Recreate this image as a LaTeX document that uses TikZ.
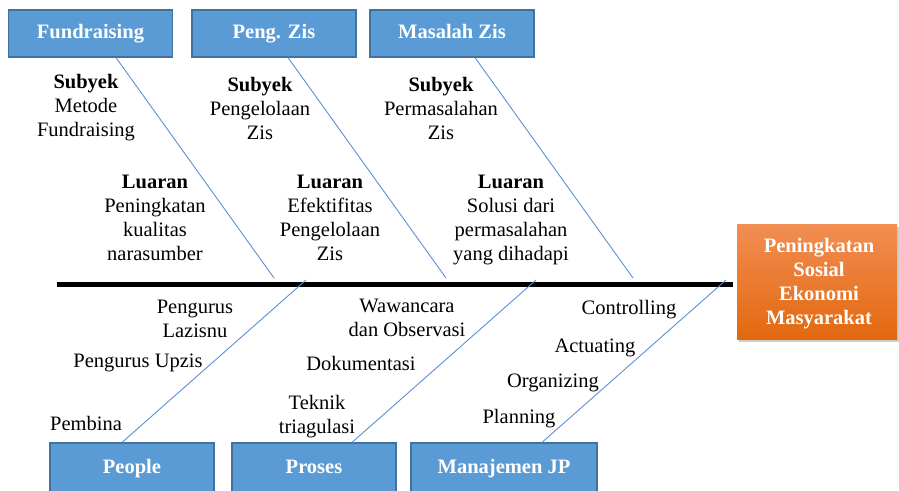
\documentclass[tikz,border=0pt]{standalone}
\usepackage{fontspec}
\setmainfont{Liberation Serif}
\usetikzlibrary{shadows}
\definecolor{boxblue}{HTML}{5B9BD5}
\definecolor{boxedge}{HTML}{41719C}
\definecolor{branch}{HTML}{5B8FD8}
\definecolor{orgtop}{HTML}{F28E52}
\definecolor{orgbot}{HTML}{E2680F}
\begin{document}
\begin{tikzpicture}[x=1pt,y=-1pt,
  catbox/.style={draw=boxedge,line width=1.2pt,fill=boxblue,minimum width=164pt,minimum height=47pt,inner sep=0pt,
     text height=14pt,text depth=4.5pt,
     font=\fontsize{20.5}{23.5}\selectfont\bfseries,text=white},
  lbl/.style={align=center,inner sep=0pt,font=\fontsize{20.5}{24}\selectfont},
  bone/.style={draw=branch,line width=0.9pt},
]
\useasboundingbox (0,0) rectangle (899,490);
% top boxes
\node[catbox] (fund) at (90.5,33.5) {Fundraising};
\node[catbox] (peng) at (274,33.5) {Peng. Zis};
\node[catbox] (masa) at (452,33.5) {Masalah Zis};
% bottom boxes
\node[catbox,minimum height=51pt] (peop) at (132,468.5) {People};
\node[catbox,minimum height=51pt] (pros) at (314,468.5) {Proses};
\node[catbox,minimum height=51pt,minimum width=186pt] (manj) at (504,468.5) {Manajemen JP};
% effect box
\node[minimum width=160pt,minimum height=115pt,top color=orgtop,bottom color=orgbot,draw=none,
  drop shadow={shadow xshift=2pt,shadow yshift=-3pt,opacity=0.4}] (eff) at (817,281.5) {};
\node[align=center,inner sep=0pt,text=white,font=\fontsize{20.5}{24}\selectfont\bfseries] (efft) at (819,284)
  {Peningkatan\\Sosial\\Ekonomi\\Masyarakat};
% spine
\coordinate (sp0) at (57,284);
\draw[line width=5pt] (sp0) -- (sp0 -| eff.west) [shorten >=4pt];
% end points on spine
\coordinate (a1) at (274,278);
\coordinate (a2) at (446,278);
\coordinate (a3) at (633,278);
\coordinate (b1) at (306,280);
\coordinate (b2) at (536,280);
\coordinate (b3) at (726,280);
\draw[bone] ([xshift=25.5pt]fund.south) -- (a1);
\draw[bone] ([xshift=14pt]peng.south) -- (a2);
\draw[bone] ([xshift=23pt]masa.south) -- (a3);
\draw[bone] ([xshift=-10pt]peop.north) -- (b1);
\draw[bone] ([xshift=38pt]pros.north) -- (b2);
\draw[bone] ([xshift=38pt]manj.north) -- (b3);
% top labels
\node[lbl] (s1) at (86,108) {\textbf{Subyek}\\Metode\\Fundraising};
\node[lbl] (s2) at (260,108) {\textbf{Subyek}\\Pengelolaan\\Zis};
\node[lbl] (s3) at (441,108) {\textbf{Subyek}\\Permasalahan\\Zis};
\node[lbl] (l1) at (155,218) {\textbf{Luaran}\\Peningkatan\\kualitas\\narasumber};
\node[lbl] (l2) at (330,218) {\textbf{Luaran}\\Efektifitas\\Pengelolaan\\Zis};
\node[lbl] (l3) at (511,220) {\textbf{Luaran}\\Solusi dari\\permasalahan\\yang dihadapi};
% bottom labels
\node[lbl] (p1) at (195,318.5) {Pengurus\\Lazisnu};
\node[lbl] (p2) at (138,363) {Pengurus Upzis};
\node[lbl] (p3) at (86,423) {Pembina};
\node[lbl] (r1) at (407,318) {Wawancara\\dan Observasi};
\node[lbl] (r2) at (361,363) {Dokumentasi};
\node[lbl] (r3) at (317,417) {Teknik\\triagulasi};
\node[lbl] (m1) at (629,310) {Controlling};
\node[lbl] (m2) at (595,348) {Actuating};
\node[lbl] (m3) at (553,383) {Organizing};
\node[lbl] (m4) at (519,419) {Planning};
\end{tikzpicture}
\end{document}
